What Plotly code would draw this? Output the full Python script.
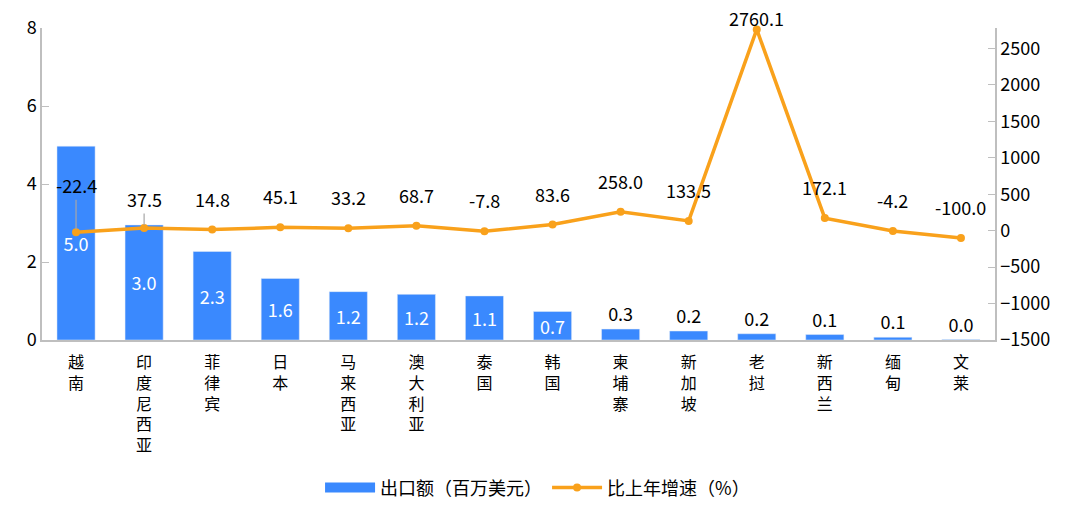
import plotly.graph_objects as go

countries = ['越南', '印度尼西亚', '菲律宾', '日本', '马来西亚', '澳大利亚', '泰国',
             '韩国', '柬埔寨', '新加坡', '老挝', '新西兰', '缅甸', '文莱']
export_val = [4.97, 2.95, 2.27, 1.58, 1.24, 1.17, 1.13, 0.73, 0.28, 0.23, 0.16, 0.14, 0.07, 0.01]
export_lbl = ['5.0', '3.0', '2.3', '1.6', '1.2', '1.2', '1.1', '0.7', '0.3', '0.2', '0.2', '0.1', '0.1', '0.0']
growth = [-22.4, 37.5, 14.8, 45.1, 33.2, 68.7, -7.8, 83.6, 258.0, 133.5, 2760.1, 172.1, -4.2, -100.0]

BLUE = '#3A89FE'
ORANGE = '#F9A11B'
AXIS = '#BFBFBF'
FONT = 'Noto Sans CJK SC'

# vertical category labels, one character per line
tick_txt = ['<br>'.join(list(c)) for c in countries]

n_inside = 8
positions = ['inside'] * n_inside + ['outside'] * (len(countries) - n_inside)
txt_colors = ['white'] * n_inside + ['black'] * (len(countries) - n_inside)

fig = go.Figure()
fig.add_trace(go.Bar(
    x=countries, y=export_val, name='出口额（百万美元）', showlegend=False,
    marker_color=BLUE, width=0.56,
    text=export_lbl, textposition=positions, insidetextanchor='middle', textangle=0,
    textfont=dict(color=txt_colors, size=18, family=FONT),
    constraintext='none', cliponaxis=False,
))
# legend-only entry so the bar key is drawn as a wide block like the original
fig.add_trace(go.Scatter(
    x=[None], y=[None], name='出口额（百万美元）', mode='lines',
    line=dict(color=BLUE, width=12),
))
fig.add_trace(go.Scatter(
    x=countries, y=growth, name='比上年增速（%）', yaxis='y2',
    mode='lines+markers', line=dict(color=ORANGE, width=3.5),
    marker=dict(color=ORANGE, size=8), cliponaxis=False,
))

anns = []
for i, (c, g) in enumerate(zip(countries, growth)):
    a = dict(x=c, y=g, xref='x', yref='y2', text=f'{g:.1f}',
             font=dict(size=18, color='black', family=FONT))
    if i == 0:
        a.update(showarrow=True, ax=0, ay=-47, arrowhead=0, arrowwidth=1.2,
                 arrowcolor='#A6A6A6', standoff=3)
    elif i == 1:
        a.update(showarrow=True, ax=0, ay=-29, arrowhead=0, arrowwidth=1.2,
                 arrowcolor='#A6A6A6', standoff=3)
    elif g > 2000:
        a.update(showarrow=False, yshift=11)
    else:
        a.update(showarrow=False, yshift=31)
    anns.append(a)

fig.update_layout(
    width=1080, height=522,
    margin=dict(l=42, r=85, t=28, b=182, autoexpand=False),
    plot_bgcolor='white', paper_bgcolor='white',
    font=dict(family=FONT, size=18, color='black'),
    bargap=0.44,
    annotations=anns,
    showlegend=True,
    legend=dict(orientation='h', x=0.52, xanchor='center', y=-0.474, yanchor='middle',
                font=dict(size=18), itemwidth=50, traceorder='normal'),
    xaxis=dict(type='category', categoryorder='array', categoryarray=countries,
               range=[-0.5, len(countries) - 0.5],
               tickvals=countries, ticktext=tick_txt, showline=True, linecolor=AXIS,
               linewidth=1.5, ticks='', tickfont=dict(size=16), showgrid=False,
               ticklabelstandoff=7, automargin=False),
    yaxis=dict(range=[0, 8], dtick=2, showline=True, linecolor=AXIS, linewidth=1.5,
               ticks='inside', ticklen=7, tickcolor=AXIS, showgrid=False, zeroline=False,
               tickfont=dict(size=18), automargin=False),
    yaxis2=dict(range=[-1500, 2780], tickvals=list(range(-1500, 3000, 500)),
                overlaying='y', side='right', showline=True, linecolor=AXIS, linewidth=1.5,
                ticks='inside', ticklen=7, tickcolor=AXIS, showgrid=False, zeroline=False,
                tickfont=dict(size=18), automargin=False),
)

fig.write_html('out.html', config={'displayModeBar': False},
               post_script="document.body.style.margin='0';document.body.style.overflow='hidden';")
